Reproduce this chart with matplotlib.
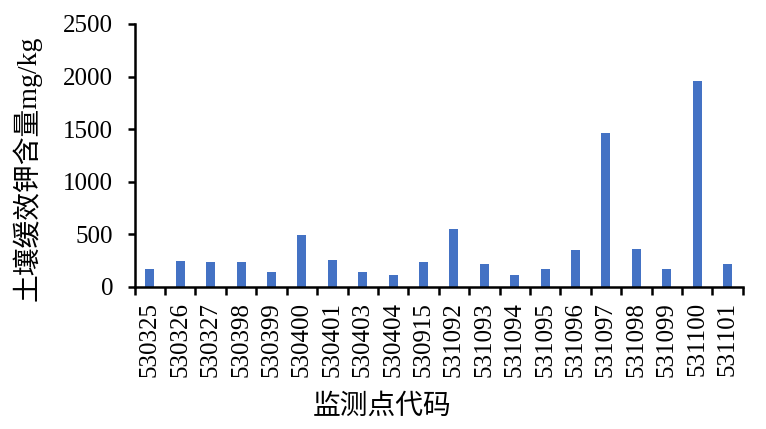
import matplotlib
matplotlib.use("Agg")
import matplotlib.pyplot as plt
import numpy as np

categories = ["530325", "530326", "530327", "530398", "530399", "530400", "530401",
              "530403", "530404", "530915", "531092", "531093", "531094", "531095",
              "531096", "531097", "531098", "531099", "531100", "531101"]
values = [168, 244, 234, 234, 140, 491, 253, 140, 111, 234,
          547, 215, 111, 168, 348, 1459, 358, 168, 1953, 215]
yticks = [0, 500, 1000, 1500, 2000, 2500]
ylabel = "土壤缓效钾含量mg/kg"
xlabel = "监测点代码"

fams = ["Liberation Serif", "Noto Sans CJK SC", "DejaVu Sans"]
plt.rcParams["font.family"] = fams

fig = plt.figure(figsize=(7.66, 4.29), dpi=100)
ax = fig.add_axes([134.7 / 766, 1 - 286.7 / 429, (742.7 - 134.7) / 766, (286.7 - 24) / 429])

x = np.arange(len(categories))
ax.bar(x, values, width=0.3, color="#4472C4", zorder=2)

ax.set_xlim(-0.5, len(categories) - 0.5)
ax.set_ylim(0, 2500)
ax.set_yticks(yticks)
ax.set_yticklabels([str(v) for v in yticks], fontsize=18)
ax.set_xticks(x)
ax.set_xticklabels(categories, rotation=90, fontsize=18)
ax.set_xticks(np.arange(len(categories) + 1) - 0.5, minor=True)
ax.tick_params(axis="x", which="major", length=0, pad=11)
ax.tick_params(axis="x", which="minor", length=6, width=1.8, direction="out")
ax.tick_params(axis="y", which="major", length=5, width=1.8, direction="out", pad=10.5)

for s in ["top", "right"]:
    ax.spines[s].set_visible(False)
for s in ["left", "bottom"]:
    ax.spines[s].set_linewidth(1.8)
    ax.spines[s].set_color("black")

fig.text(382 / 766, 1 - 407 / 429, xlabel, fontsize=20, ha="center", va="center")
fig.text(27 / 766, 1 - 168 / 429, ylabel, fontsize=20, ha="center", va="center", rotation=90)

fig.savefig("out.png", dpi=100, facecolor="white")
